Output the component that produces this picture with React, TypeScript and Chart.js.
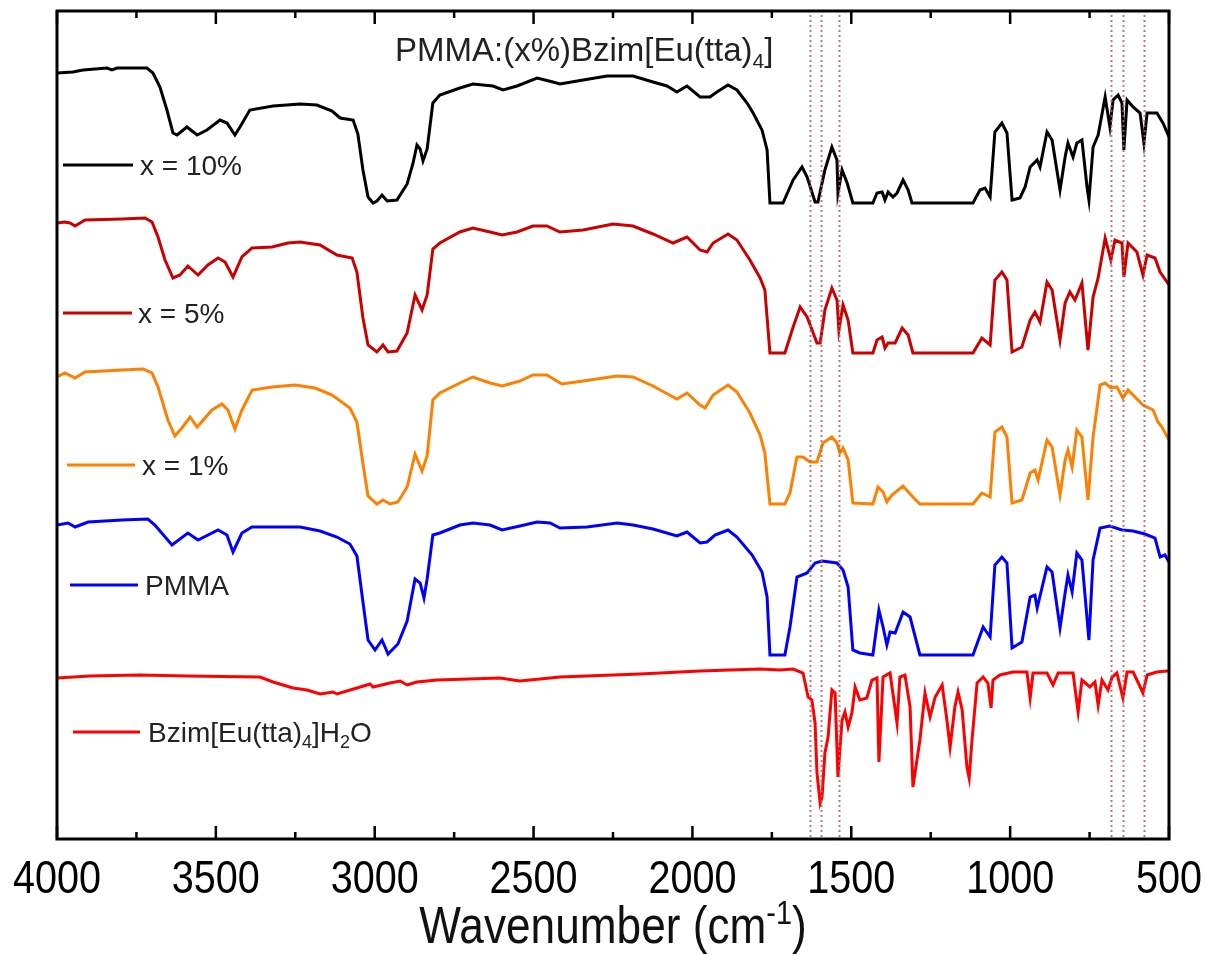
import { useEffect, useRef } from 'react';
import { Chart, registerables } from 'chart.js';

Chart.register(...registerables);

// ---- Data (wavenumber in cm-1, offset transmittance in a.u.) ----
const wn10 = [4000,3950,3918,3843,3827,3811,3717,3698,3676,3654,3635,3622,3591,3559,3528,3487,3465,3440,3424,3393,3320,3235,3182,3134,3109,3068,3053,3037,3021,3005,2993,2977,2961,2930,2898,2880,2867,2857,2848,2835,2817,2795,2732,2691,2628,2596,2552,2489,2439,2417,2344,2269,2187,2124,2080,2049,2017,1976,1945,1923,1888,1860,1828,1809,1781,1765,1756,1715,1683,1655,1639,1614,1605,1583,1561,1545,1542,1529,1513,1495,1432,1419,1403,1394,1384,1369,1356,1337,1321,1309,1117,1095,1079,1063,1048,1026,1010,994,969,953,937,915,906,884,868,843,827,818,802,790,774,758,752,739,723,701,686,676,660,648,642,632,613,591,579,569,538,519,500];
const t10 = [767,768,770,772,770,772,772,767,753,730,707,705,713,705,710,720,717,705,713,730,734,736,735,729,722,720,706,670,643,637,639,645,639,640,656,676,695,691,679,691,737,745,752,756,754,750,754,762,758,756,760,764,764,758,754,748,754,743,743,748,755,750,737,727,710,690,637,637,660,673,663,638,638,670,693,680,647,670,657,637,637,647,648,640,648,643,647,660,650,637,637,650,652,643,708,717,707,640,642,653,673,680,673,708,700,650,683,697,683,697,700,653,640,693,705,743,713,740,745,737,690,740,733,727,697,727,727,717,703];

const wn5 = [4000,3975,3959,3943,3912,3795,3723,3701,3682,3660,3635,3613,3588,3556,3525,3493,3471,3446,3418,3386,3323,3273,3235,3172,3119,3071,3056,3037,3021,2993,2974,2958,2930,2898,2873,2851,2835,2817,2795,2732,2691,2637,2599,2552,2502,2458,2417,2344,2250,2187,2124,2061,2017,1976,1954,1935,1888,1860,1819,1787,1772,1756,1709,1683,1661,1639,1608,1598,1583,1561,1545,1539,1526,1510,1495,1432,1419,1403,1394,1384,1362,1340,1321,1306,1117,1089,1063,1048,1026,1010,994,963,937,922,906,884,868,843,827,812,796,774,755,739,723,701,683,670,648,642,629,601,582,569,544,528,500];
const t5 = [617,618,617,614,620,621,622,618,603,580,562,565,574,565,575,582,578,563,583,592,593,597,598,595,585,582,568,522,495,488,495,488,489,507,545,530,545,591,597,608,612,608,605,608,614,614,608,610,616,614,606,597,603,590,588,597,606,600,580,562,550,487,487,513,533,523,497,497,530,552,540,510,535,520,487,487,500,503,492,497,497,512,505,487,487,502,495,560,568,560,488,493,520,528,518,558,550,500,537,548,540,557,490,543,562,602,580,600,597,563,597,588,565,585,582,568,555];

const wn1 = [4000,3975,3943,3912,3795,3729,3701,3682,3651,3629,3607,3581,3559,3512,3481,3462,3440,3418,3386,3323,3251,3188,3134,3078,3056,3037,3021,2993,2974,2952,2927,2898,2873,2851,2835,2817,2795,2732,2691,2637,2599,2543,2502,2458,2411,2344,2237,2187,2124,2049,2017,1976,1960,1935,1888,1860,1819,1787,1772,1756,1709,1693,1671,1652,1630,1608,1589,1561,1545,1536,1526,1510,1495,1432,1416,1400,1388,1372,1337,1306,1284,1117,1089,1063,1048,1026,1010,994,963,937,922,912,884,868,843,827,818,805,790,774,755,739,717,701,683,664,645,629,582,550,535,522,500];
const t1 = [463,467,462,468,470,471,467,453,420,404,412,423,413,430,436,430,411,430,450,453,455,452,445,432,418,376,344,336,340,336,338,353,386,369,384,440,447,457,463,457,454,459,465,465,456,459,464,463,454,441,447,435,432,445,455,448,427,405,387,336,336,347,383,383,378,378,397,403,397,387,392,380,337,336,353,348,338,345,354,343,336,336,347,343,408,413,403,337,340,367,370,360,400,393,345,380,390,373,410,403,340,403,455,457,452,453,442,450,435,430,418,413,400];

const wnPMMA = [4000,3965,3943,3902,3795,3714,3692,3638,3588,3556,3493,3465,3446,3418,3386,3273,3235,3172,3119,3078,3056,3037,3021,2999,2977,2958,2927,2898,2873,2857,2845,2835,2817,2795,2732,2691,2637,2599,2543,2489,2448,2417,2332,2237,2187,2124,2049,2017,1976,1954,1929,1888,1860,1812,1781,1765,1756,1709,1693,1671,1639,1614,1592,1545,1526,1510,1495,1473,1432,1413,1400,1388,1378,1362,1337,1315,1284,1117,1085,1063,1048,1026,1010,994,963,937,922,915,884,868,843,827,818,805,790,774,752,739,717,686,648,613,576,544,528,513,500];
const tPMMA = [315,317,313,318,320,321,315,295,307,300,310,305,288,307,313,313,313,309,303,296,284,238,200,190,200,186,196,219,261,257,242,261,305,307,315,317,315,310,314,318,317,312,313,317,315,311,304,308,297,298,305,310,303,285,268,243,185,185,213,263,267,277,279,277,270,253,190,187,185,230,213,195,208,207,228,223,185,185,213,203,275,283,277,192,198,243,245,232,273,268,212,247,265,248,287,280,200,280,312,314,310,309,306,302,283,285,278];

const wnBzim = [4000,3896,3739,3591,3361,3320,3257,3213,3172,3131,3119,3056,3015,3005,2952,2920,2898,2867,2804,2606,2543,2417,2165,1976,1787,1724,1683,1652,1636,1624,1614,1608,1598,1592,1583,1573,1561,1551,1542,1529,1520,1510,1498,1488,1473,1451,1435,1419,1413,1400,1378,1356,1347,1331,1315,1306,1284,1268,1252,1236,1214,1199,1189,1174,1164,1151,1136,1129,1120,1104,1085,1070,1060,1054,1032,991,947,937,928,884,865,849,802,786,774,749,733,723,711,692,679,664,645,632,613,598,582,569,538,506,500];
const tBzim = [162,164,165,164,163,158,152,150,146,148,146,152,156,153,157,159,155,158,160,162,159,163,166,169,171,170,171,167,143,140,117,67,37,43,87,103,150,147,63,120,128,113,127,153,140,142,160,162,78,163,167,117,163,165,133,53,100,147,123,143,155,120,93,133,148,130,73,62,100,157,163,157,132,160,165,168,168,142,167,167,155,167,167,128,160,153,158,135,160,150,163,167,142,168,168,158,147,165,168,169,169];

const seriesLabels = ['x = 10%', 'x = 5%', 'x = 1%', 'PMMA', 'Bzim[Eu(tta)_{4}]H_{2}O'];
const seriesColors = ['#000000', '#cc0000', '#ff8000', '#0000ff', '#ff0000'];
const seriesX = [wn10, wn5, wn1, wnPMMA, wnBzim];
const seriesY = [t10, t5, t1, tPMMA, tBzim];

const xTickValues = [4000, 3500, 3000, 2500, 2000, 1500, 1000, 500];
const xTickLabels = ['4000', '3500', '3000', '2500', '2000', '1500', '1000', '500'];
const xMinorTicks = [3750, 3250, 2750, 2250, 1750, 1250, 750];
const markerLines = [1630, 1595, 1538, 682, 644, 578];
const chartTitle = 'PMMA:(x%)Bzim[Eu(tta)_{4}]';
const axisTitle = 'Wavenumber (cm^{-1})';

// ---- layout / style ----
const SANS = "'Liberation Sans', Arial, sans-serif";
const NARROW_SCALE = 0.86;
const legendLayout = [
  { x1: 63, x2: 133, y: 165, tx: 140 },
  { x1: 63, x2: 132, y: 313, tx: 138 },
  { x1: 67, x2: 135, y: 465, tx: 142 },
  { x1: 70, x2: 138, y: 585, tx: 145 },
  { x1: 73, x2: 140, y: 732, tx: 148 },
];

function drawRich(ctx: CanvasRenderingContext2D, text: string, x: number, y: number, size: number, family: string, color: string, align: 'left' | 'center' = 'left', sx = 1) {
  const parts: { t: string; m: string; w: number }[] = [];
  text.split(/(_\{[^}]*\}|\^\{[^}]*\})/).forEach((p) => {
    if (!p) return;
    if (p.startsWith('_{')) parts.push({ t: p.slice(2, -1), m: 'sub', w: 0 });
    else if (p.startsWith('^{')) parts.push({ t: p.slice(2, -1), m: 'sup', w: 0 });
    else parts.push({ t: p, m: 'n', w: 0 });
  });
  const small = Math.round(size * 0.65);
  const fontOf = (m: string) => `${m === 'n' ? size : small}px ${family}`;
  let total = 0;
  parts.forEach((p) => {
    ctx.font = fontOf(p.m);
    p.w = ctx.measureText(p.t).width;
    total += p.w;
  });
  ctx.save();
  ctx.translate(x, y);
  ctx.scale(sx, 1);
  let cx = align === 'center' ? -total / 2 : 0;
  ctx.fillStyle = color;
  ctx.textAlign = 'left';
  ctx.textBaseline = 'alphabetic';
  parts.forEach((p) => {
    ctx.font = fontOf(p.m);
    const dy = p.m === 'sub' ? size * 0.22 : p.m === 'sup' ? -size * 0.36 : 0;
    ctx.fillText(p.t, cx, dy);
    cx += p.w;
  });
  ctx.restore();
}

const decorPlugin = {
  id: 'decor',
  afterDatasetsDraw(chart: any) {
    const { ctx, chartArea: a } = chart;
    const xs = chart.scales.x;
    ctx.save();
    // dotted marker lines
    ctx.strokeStyle = 'rgba(185,95,95,0.85)';
    ctx.lineWidth = 2;
    ctx.setLineDash([2, 3]);
    markerLines.forEach((w) => {
      const px = Math.round(xs.getPixelForValue(w)) + 0.5;
      ctx.beginPath();
      ctx.moveTo(px, a.top + 4);
      ctx.lineTo(px, a.bottom);
      ctx.stroke();
    });
    ctx.setLineDash([]);
    // frame
    ctx.strokeStyle = '#000';
    ctx.lineWidth = 3;
    ctx.strokeRect(a.left, a.top, a.right - a.left, a.bottom - a.top);
    // inward ticks, top and bottom
    ctx.lineWidth = 2.5;
    const tick = (w: number, len: number) => {
      const px = xs.getPixelForValue(w);
      ctx.beginPath();
      ctx.moveTo(px, a.bottom);
      ctx.lineTo(px, a.bottom - len);
      ctx.moveTo(px, a.top);
      ctx.lineTo(px, a.top + len);
      ctx.stroke();
    };
    xTickValues.forEach((w) => tick(w, 13));
    xMinorTicks.forEach((w) => tick(w, 7));
    // tick labels (narrow face)
    xTickValues.forEach((w, i) => {
      drawRich(ctx, xTickLabels[i], xs.getPixelForValue(w), a.bottom + 54, 46, SANS, '#000', 'center', NARROW_SCALE);
    });
    // legend entries beside each curve
    legendLayout.forEach((L, i) => {
      ctx.strokeStyle = seriesColors[i];
      ctx.lineWidth = 3;
      ctx.beginPath();
      ctx.moveTo(L.x1, L.y);
      ctx.lineTo(L.x2, L.y);
      ctx.stroke();
      drawRich(ctx, seriesLabels[i], L.tx, L.y + 10, 28, SANS, '#222');
    });
    // chart title
    drawRich(ctx, chartTitle, 395, 61, 33, SANS, '#222');
    // axis title
    drawRich(ctx, axisTitle, (a.left + a.right) / 2, 943, 52, SANS, '#111', 'center', 0.85);
    ctx.restore();
  },
};

export default function App() {
  const ref = useRef<HTMLCanvasElement | null>(null);
  useEffect(() => {
    if (!ref.current) return;
    const chart = new Chart(ref.current, {
      type: 'line',
      data: {
        datasets: seriesLabels.map((label, i) => ({
          label,
          data: seriesX[i].map((w, k) => ({ x: w, y: seriesY[i][k] })),
          borderColor: seriesColors[i],
          backgroundColor: seriesColors[i],
          borderWidth: 3,
          pointRadius: 0,
          tension: 0,
          fill: false,
        })),
      },
      options: {
        responsive: false,
        animation: false,
        devicePixelRatio: 1,
        layout: { padding: { left: 57, right: 37, top: 11, bottom: 0 } },
        plugins: { legend: { display: false }, tooltip: { enabled: false }, title: { display: false } },
        scales: {
          x: {
            type: 'linear',
            reverse: true,
            min: 500,
            max: 4000,
            grid: { display: false, drawTicks: false },
            border: { display: false },
            afterBuildTicks: (s: any) => {
              s.ticks = xTickValues.map((v) => ({ value: v }));
            },
            afterFit: (s: any) => {
              s.height = 116;
            },
            ticks: { display: false },
          },
          y: { display: false, min: 1, max: 829 },
        },
      },
      plugins: [decorPlugin],
    });
    return () => chart.destroy();
  }, []);
  return (
    <div style={{ position: 'absolute', left: 0, top: 0, width: 1206, height: 955 }}>
      <canvas ref={ref} width={1206} height={955} style={{ display: 'block' }} />
    </div>
  );
}
